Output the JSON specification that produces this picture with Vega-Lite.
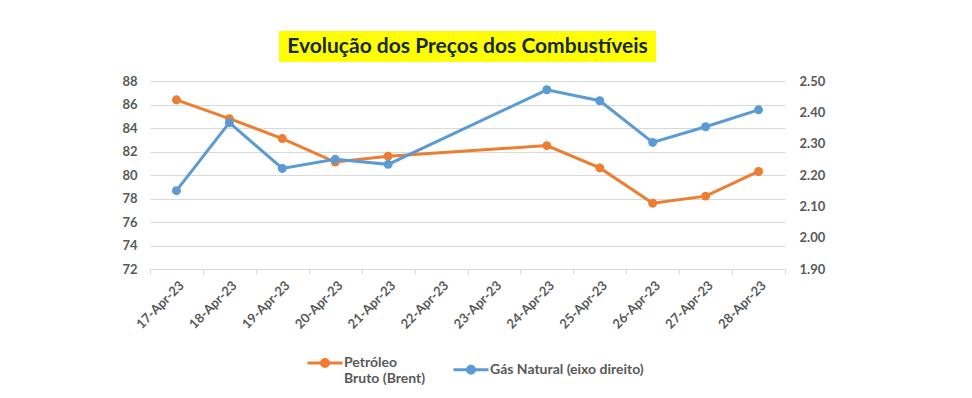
{
  "$schema": "https://vega.github.io/schema/vega-lite/v6.json",
  "padding": {"left": 121, "top": 31, "right": 5, "bottom": 5},
  "background": "white",
  "config": {"view": {"stroke": null}, "font": "Lato", "concat": {"spacing": 19}},
  "datasets": {
    "prices": [
      {"date": "17-Apr-23", "series": "Petróleo Bruto (Brent)", "value": 86.4},
      {"date": "18-Apr-23", "series": "Petróleo Bruto (Brent)", "value": 84.8},
      {"date": "19-Apr-23", "series": "Petróleo Bruto (Brent)", "value": 83.1},
      {"date": "20-Apr-23", "series": "Petróleo Bruto (Brent)", "value": 81.1},
      {"date": "21-Apr-23", "series": "Petróleo Bruto (Brent)", "value": 81.6},
      {"date": "24-Apr-23", "series": "Petróleo Bruto (Brent)", "value": 82.5},
      {"date": "25-Apr-23", "series": "Petróleo Bruto (Brent)", "value": 80.6},
      {"date": "26-Apr-23", "series": "Petróleo Bruto (Brent)", "value": 77.6},
      {"date": "27-Apr-23", "series": "Petróleo Bruto (Brent)", "value": 78.2},
      {"date": "28-Apr-23", "series": "Petróleo Bruto (Brent)", "value": 80.3},
      {"date": "17-Apr-23", "series": "Gás Natural (eixo direito)", "value": 2.150},
      {"date": "18-Apr-23", "series": "Gás Natural (eixo direito)", "value": 2.367},
      {"date": "19-Apr-23", "series": "Gás Natural (eixo direito)", "value": 2.221},
      {"date": "20-Apr-23", "series": "Gás Natural (eixo direito)", "value": 2.250},
      {"date": "21-Apr-23", "series": "Gás Natural (eixo direito)", "value": 2.234},
      {"date": "24-Apr-23", "series": "Gás Natural (eixo direito)", "value": 2.472},
      {"date": "25-Apr-23", "series": "Gás Natural (eixo direito)", "value": 2.437},
      {"date": "26-Apr-23", "series": "Gás Natural (eixo direito)", "value": 2.304},
      {"date": "27-Apr-23", "series": "Gás Natural (eixo direito)", "value": 2.354},
      {"date": "28-Apr-23", "series": "Gás Natural (eixo direito)", "value": 2.408}
    ],
    "titulo": [{"label": "Evolução dos Preços dos Combustíveis"}]
  },
  "center": true,
  "bounds": "flush",
  "vconcat": [
    {
      "width": 377,
      "height": 31,
      "data": {"name": "titulo"},
      "layer": [
        {"mark": {"type": "rect", "color": "#FFFF00"}, "encoding": {}},
        {
          "mark": {"type": "text", "font": "Lato", "fontSize": 21, "fontWeight": "bold", "color": "#172838", "align": "center", "baseline": "middle"},
          "encoding": {"text": {"field": "label"}}
        }
      ]
    },
    {
      "width": 635,
      "height": 188,
      "data": {"name": "prices"},
      "encoding": {
        "x": {
          "field": "date",
          "type": "ordinal",
          "bandPosition": 0.5,
          "scale": {
            "type": "band",
            "domain": ["17-Apr-23", "18-Apr-23", "19-Apr-23", "20-Apr-23", "21-Apr-23", "22-Apr-23", "23-Apr-23", "24-Apr-23", "25-Apr-23", "26-Apr-23", "27-Apr-23", "28-Apr-23"],
            "paddingInner": 0,
            "paddingOuter": 0
          },
          "axis": {
            "title": null,
            "labelAngle": -45,
            "labelAlign": "right",
            "labelBaseline": "middle",
            "labelPadding": 9,
            "labelOffset": 5,
            "tickBand": "extent",
            "domainColor": "#d9d9d9",
            "tickColor": "#d9d9d9",
            "tickSize": 5,
            "grid": false,
            "labelFont": "Lato",
            "labelFontSize": 13,
            "labelFontWeight": "bold",
            "labelColor": "#595959"
          }
        }
      },
      "layer": [
        {
          "transform": [{"filter": "datum.series == 'Petróleo Bruto (Brent)'"}],
          "mark": {"type": "line", "strokeWidth": 3, "point": {"size": 80, "filled": true, "opacity": 1}},
          "encoding": {
            "y": {
              "field": "value",
              "type": "quantitative",
              "scale": {"domain": [72, 88], "zero": false, "nice": false},
              "axis": {
                "orient": "left",
                "title": null,
                "values": [72, 74, 76, 78, 80, 82, 84, 86, 88],
                "domain": false,
                "ticks": false,
                "grid": true,
                "gridColor": "#d9d9d9",
                "labelPadding": 13,
                "labelFont": "Lato",
                "labelFontSize": 13,
                "labelFontWeight": "bold",
                "labelColor": "#595959"
              }
            },
            "color": {
              "field": "series",
              "type": "nominal",
              "scale": {"domain": ["Petróleo Bruto (Brent)", "Gás Natural (eixo direito)"], "range": ["#ED7D31", "#5B9BD5"]},
              "legend": {
                "orient": "none",
                "legendX": 156,
                "legendY": 313,
                "direction": "horizontal",
                "title": null,
                "labelExpr": "datum.label == 'Petróleo Bruto (Brent)' ? ['Petróleo', 'Bruto (Brent)'] : datum.label",
                "symbolType": "M-1,0H1M-0.2,0A0.2,0.2,0,1,0,0.2,0A0.2,0.2,0,1,0,-0.2,0Z",
                "symbolSize": 1225,
                "symbolStrokeWidth": 3,
                "labelOffset": 0,
                "labelFont": "Lato",
                "labelFontSize": 14,
                "labelFontWeight": "bold",
                "labelColor": "#595959",
                "labelBaseline": "middle",
                "columnPadding": 21
              }
            }
          }
        },
        {
          "transform": [{"filter": "datum.series == 'Gás Natural (eixo direito)'"}],
          "mark": {"type": "line", "strokeWidth": 3, "point": {"size": 80, "filled": true, "opacity": 1}},
          "encoding": {
            "y": {
              "field": "value",
              "type": "quantitative",
              "scale": {"domain": [1.9, 2.5], "zero": false, "nice": false},
              "axis": {
                "orient": "right",
                "title": null,
                "values": [1.9, 2.0, 2.1, 2.2, 2.3, 2.4, 2.5],
                "format": ".2f",
                "domain": false,
                "ticks": false,
                "grid": false,
                "labelPadding": 14,
                "labelFont": "Lato",
                "labelFontSize": 13,
                "labelFontWeight": "bold",
                "labelColor": "#595959"
              }
            },
            "color": {"field": "series", "type": "nominal"}
          }
        }
      ],
      "resolve": {"scale": {"y": "independent"}}
    }
  ]
}
